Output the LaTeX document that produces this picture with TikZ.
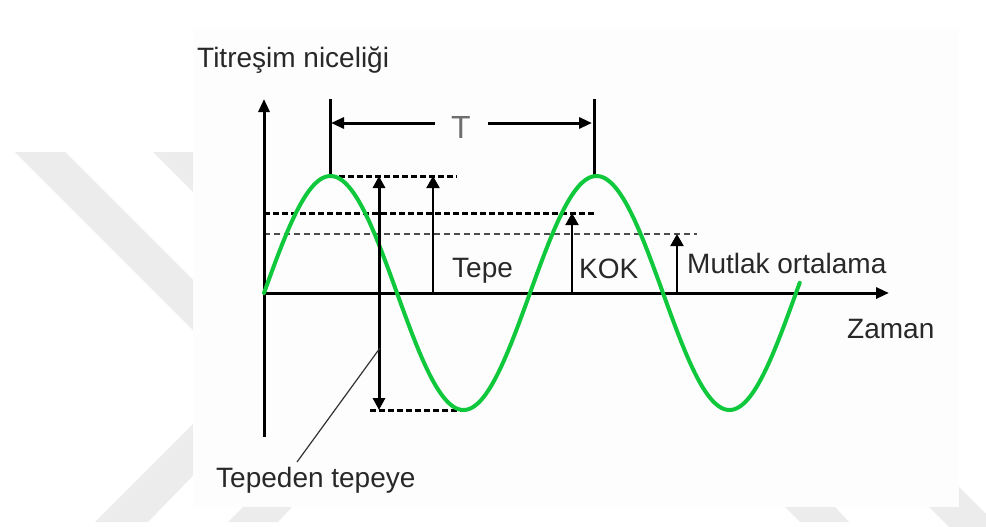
\documentclass[tikz,border=0pt]{standalone}
\usepackage{fontspec}
\setmainfont{Liberation Sans}
\usetikzlibrary{arrows.meta}
\definecolor{wave}{RGB}{15,200,60}
\definecolor{wm}{RGB}{236,236,236}
\definecolor{panel}{RGB}{253,253,253}
\definecolor{txt}{RGB}{40,40,40}
\definecolor{tgray}{RGB}{110,110,110}
\begin{document}
\begin{tikzpicture}[x=1pt,y=-1pt,
  lbl/.style={font=\fontsize{28}{32}\selectfont, text=txt, inner sep=0pt},
  bigtip/.style={-{Triangle[length=13pt,width=11pt]}},
  smalltip/.style={-{Triangle[length=12pt,width=13pt]}},
  axisline/.style={line width=3pt, black},
  thinarrow/.style={line width=2pt, black, smalltip},
  thickdash/.style={line width=3pt, black, dash pattern=on 6pt off 3pt},
  thindash/.style={line width=1.8pt, black!70, dash pattern=on 6pt off 4pt},
  tick/.style={line width=3pt, black},
  leader/.style={line width=1.2pt, black!80},
  wmark/.style={fill=wm, draw=none}]
\useasboundingbox (0,0) rectangle (986,527);
\fill[white] (0,0) rectangle (986,527);
% watermark
\path[wmark] (15,152) -- (65,152) -- (260,347) -- (210,347) -- cycle;
\path[wmark] (153,152) -- (203,152) -- (260,209) -- (210,209) -- cycle;
\path[wmark] (95,522) -- (200,417) -- (250,417) -- (148,522) -- cycle;
\path[wmark] (243,507) -- (292,507) -- (278,522) -- (228,522) -- cycle;
\path[wmark] (785,507) -- (835,507) -- (849,522) -- (800,522) -- cycle;
\path[wmark] (852,430) -- (902,430) -- (1000,528) -- (950,528) -- cycle;
\fill[panel] (193,27) rectangle (959,507);
% coordinates
\coordinate (O) at (264,293);
\coordinate (Ytop) at (264,99);
\coordinate (Ybot) at (264,437);
\coordinate (Xend) at (889,293);
\coordinate (P1) at (330,176);
\coordinate (P1t) at (330,99);
\coordinate (P2) at (594,176);
\coordinate (P2t) at (594,99);
\coordinate (Tl) at (435,123);
\coordinate (Tla) at (331,123);
\coordinate (Tr) at (488,123);
\coordinate (Tra) at (592,123);
\coordinate (PkEnd) at (457,176);
\coordinate (RmsA) at (264,213);
\coordinate (RmsB) at (594,213);
\coordinate (AvA) at (264,234);
\coordinate (AvB) at (697,234);
\coordinate (TrA) at (370,410);
\coordinate (TrB) at (463,410);
\coordinate (PPt) at (379,176);
\coordinate (PPb) at (379,410);
\coordinate (TepeB) at (433,293);
\coordinate (TepeT) at (433,176);
\coordinate (KokB) at (572,293);
\coordinate (KokT) at (572,213);
\coordinate (MutB) at (677,293);
\coordinate (MutT) at (677,234);
\coordinate (LdA) at (297,462);
\coordinate (LdB) at (380,348);
% dashed levels
\draw[thickdash] (P1) -- (PkEnd);
\draw[thickdash] (RmsA) -- (RmsB);
\draw[thindash] (AvA) -- (AvB);
\draw[thickdash] (TrA) -- (TrB);
% axes
\draw[axisline, bigtip] (Ybot) -- (Ytop);
\draw[axisline, bigtip] (O) -- (Xend);
% period marks
\draw[tick] (P1) -- (P1t);
\draw[tick] (P2) -- (P2t);
\draw[line width=3pt, bigtip] (Tl) -- (Tla);
\draw[line width=3pt, bigtip] (Tr) -- (Tra);
\node[inner sep=0pt, anchor=base, text=tgray, font=\fontsize{32}{36}\selectfont] (T) at (461,138) {T};
% wave
\draw[wave, line width=4pt, line cap=round] plot[domain=0:725, samples=240, smooth]
  ({264+\x/360*266}, {293-117*sin(\x)});
% arrows
\draw[line width=3pt, {Triangle[length=12pt,width=12pt]}-{Triangle[length=12pt,width=12pt]}] (PPt) -- (PPb);
\draw[thinarrow] (TepeB) -- (TepeT);
\draw[thinarrow] (KokB) -- (KokT);
\draw[thinarrow] (MutB) -- (MutT);
\draw[leader] (LdA) -- (LdB);
% labels
\node[lbl, anchor=base west] (ylab) at (197,67) {Titreşim niceliği};
\node[lbl, anchor=base west] (tepe) at (452,277) {Tepe};
\node[lbl, anchor=base west] (kok) at (579,278) {KOK};
\node[lbl, anchor=base west] (mut) at (687,273) {Mutlak ortalama};
\node[lbl, anchor=base west] (zaman) at (847,338) {Zaman};
\node[lbl, anchor=base west] (ptp) at (216,487) {Tepeden tepeye};
\end{tikzpicture}
\end{document}
